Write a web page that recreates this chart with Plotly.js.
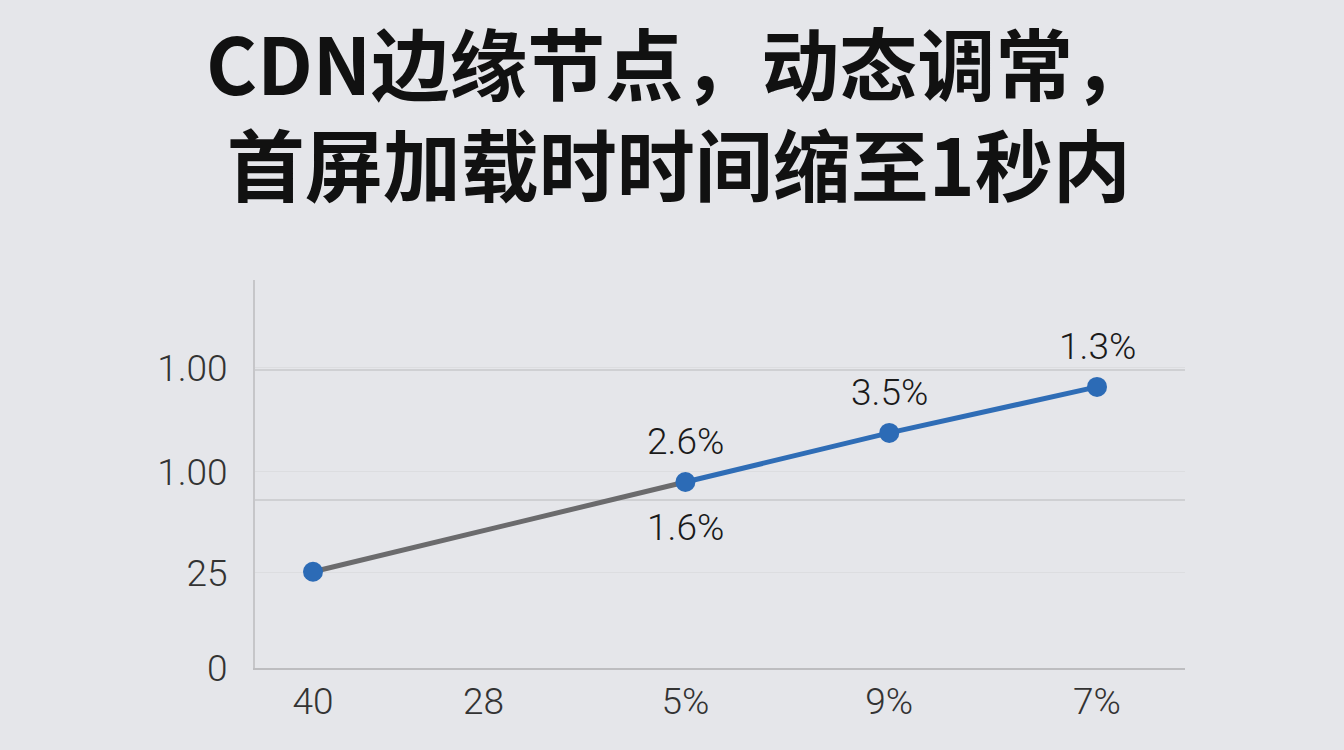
<!DOCTYPE html>
<html>
<head>
<meta charset="utf-8">
<script src="https://cdn.plot.ly/plotly-3.0.1.min.js"></script>
<style>
  html, body { margin: 0; padding: 0; background: #e5e6ea; }
  #chart { width: 1344px; height: 750px; }
</style>
</head>
<body>
<div id="chart"></div>
<script>
// categories and where they sit along the x axis
const categories = ["40", "28", "5%", "9%", "7%"];
const categoryPos = [0, 0.87, 1.9, 2.94, 4];

// series values, null where no point is drawn
const values = [25.3, null, 48.9, 61.8, 73.9];

// point labels
const labelsAbove = [null, null, "2.6%", "3.5%", "1.3%"];
const labelsBelow = [null, null, "1.6%", null, null];

// y tick labels as printed
const yTickVals = [0, 25, 51.6, 78.9];
const yTickText = ["0", "25", "1.00", "1.00"];
const yGridVals = [44.2, 78.4];

const titleLines = ["CDN边缘节点，动态调常，", "首屏加载时时间缩至1秒内"];

document.addEventListener("DOMContentLoaded", function () {
    drawChart();
});

function drawChart() {
    const grayIdx = [0, 1, 2];
    const blueIdx = [2, 3, 4];
    const numFont = 'Roboto, "Liberation Sans", sans-serif';

    const grayTrace = {
        x: grayIdx.map(i => categoryPos[i]),
        y: grayIdx.map(i => values[i]),
        type: 'scatter',
        mode: 'lines',
        connectgaps: true,
        line: { color: '#6b6b6d', width: 5 },
        hoverinfo: 'skip'
    };

    const blueTrace = {
        x: blueIdx.map(i => categoryPos[i]),
        y: blueIdx.map(i => values[i]),
        type: 'scatter',
        mode: 'lines',
        line: { color: '#2f6db6', width: 5 },
        hoverinfo: 'skip'
    };

    const markerTrace = {
        x: categoryPos,
        y: values,
        type: 'scatter',
        mode: 'markers',
        marker: { color: '#2c6bb6', size: 20 }
    };

    // invisible trace so the second (grid only) y axis is drawn
    const gridTrace = {
        x: [categoryPos[0]],
        y: [0],
        yaxis: 'y2',
        type: 'scatter',
        mode: 'markers',
        marker: { opacity: 0 },
        hoverinfo: 'skip'
    };

    const annotations = [];
    categoryPos.forEach((xp, i) => {
        if (labelsAbove[i]) {
            annotations.push({
                x: xp, y: values[i], text: labelsAbove[i],
                showarrow: false, yanchor: 'middle', yshift: 40,
                font: { size: 37, color: '#1a1a1a', family: numFont, weight: 300 }
            });
        }
        if (labelsBelow[i]) {
            annotations.push({
                x: xp, y: values[i], text: labelsBelow[i],
                showarrow: false, yanchor: 'middle', yshift: -46,
                font: { size: 37, color: '#1a1a1a', family: numFont, weight: 300 }
            });
        }
    });

    // the two-line title, kept as one text block above the plot area
    annotations.push({
        xref: 'paper', yref: 'paper',
        x: 0.455, y: 1.715,
        xanchor: 'center', yanchor: 'top', align: 'center',
        text: titleLines.join('<br>'), showarrow: false,
        font: { family: '"Noto Sans CJK SC", sans-serif', size: 78, color: '#111', weight: 'bold' }
    });

    const layout = {
        width: 1344,
        height: 750,
        paper_bgcolor: '#e5e6ea',
        plot_bgcolor: '#e5e6ea',
        showlegend: false,
        margin: { l: 255, r: 159, t: 280, b: 82 },
        xaxis: {
            range: [-0.296, 4.449],
            tickvals: categoryPos,
            ticktext: categories,
            showgrid: false,
            zeroline: false,
            showline: true,
            linecolor: '#bdbdc0',
            linewidth: 2,
            ticks: '',
            ticklabelstandoff: 0,
            tickfont: { size: 37, color: '#333', family: numFont, weight: 300 }
        },
        yaxis: {
            range: [0, 102],
            tickvals: yTickVals,
            ticktext: yTickText,
            showgrid: true,
            gridcolor: '#dcdde0',
            zeroline: false,
            showline: true,
            linecolor: '#c6c6c9',
            linewidth: 2,
            ticks: '',
            ticklabelstandoff: 18,
            tickfont: { size: 37, color: '#333', family: numFont, weight: 300 }
        },
        yaxis2: {
            overlaying: 'y',
            range: [0, 102],
            tickvals: yGridVals,
            showticklabels: false,
            showgrid: true,
            gridcolor: '#cfd0d3',
            gridwidth: 1.5,
            zeroline: false,
            showline: false,
            ticks: ''
        },
        annotations: annotations
    };

    Plotly.newPlot('chart', [gridTrace, grayTrace, blueTrace, markerTrace], layout, { displayModeBar: false, staticPlot: true });
}
</script>
</body>
</html>
